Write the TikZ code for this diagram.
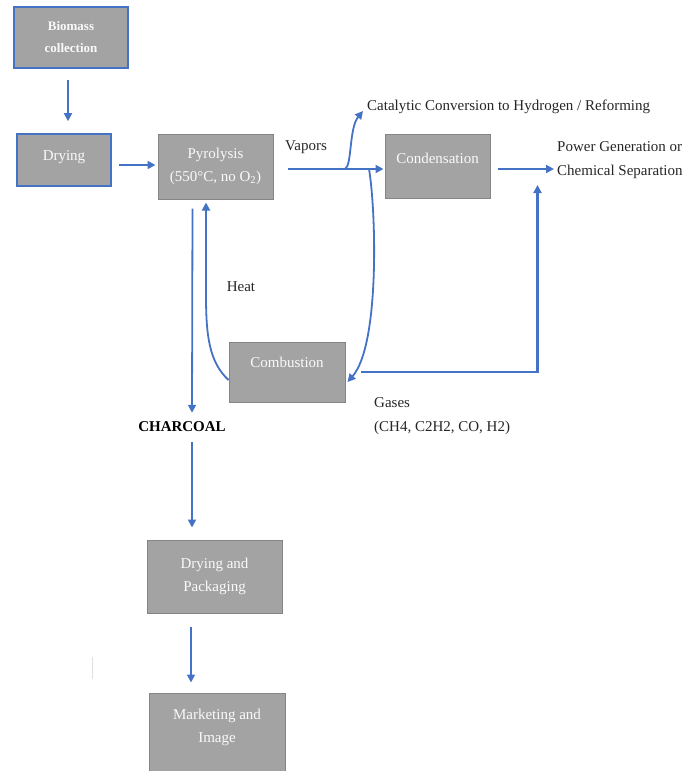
\documentclass[tikz,border=0pt]{standalone}
\usepackage{fontspec}
\setmainfont{Liberation Serif}
\usetikzlibrary{arrows.meta,calc}
\definecolor{boxgray}{HTML}{A3A3A3}
\definecolor{boxedge}{HTML}{858585}
\definecolor{flowblue}{HTML}{4472C4}
\begin{document}
\begin{tikzpicture}[x=1pt,y=-1pt,
  box/.style={draw=boxedge, line width=1pt, fill=boxgray, text=white!96!gray,
    font=\fontsize{15}{23}\selectfont, align=center, inner sep=0pt},
  bluebox/.style={box, draw=flowblue, line width=1.6pt},
  arr/.style={draw=flowblue, line width=1.8pt, -{Triangle[width=8pt,length=8pt]}},
  lbl/.style={font=\fontsize{15}{24}\selectfont, inner sep=0pt, align=left, text=black!85}]
\useasboundingbox (0,0) rectangle (698,771);

% boxes
\node[bluebox, minimum width=114pt, minimum height=61pt,
  font=\bfseries\fontsize{13}{22}\selectfont] (bio) at (71,37.5) {Biomass\\collection};
\node[bluebox, minimum width=94pt, minimum height=52pt, text depth=8pt] (dry) at (64,160) {Drying};
\node[box, minimum width=115pt, minimum height=65pt] (pyr) at (215.5,166.5) {Pyrolysis\\(550°C, no O\textsubscript{2})};
\node[box, minimum width=105pt, minimum height=64pt, text depth=16pt] (cond) at (437.5,166) {Condensation};
\node[box, minimum width=116pt, minimum height=60pt, text depth=20pt] (comb) at (287,372) {Combustion};
\node[box, minimum width=135pt, minimum height=73pt] (dp) at (214.5,576.5) {Drying and\\Packaging};
\node[box, minimum width=136pt, minimum height=80pt, text depth=15pt] (mkt) at (217,733) {Marketing and\\Image};

% labels
\node[lbl, anchor=west] (vap) at (285,147) {Vapors};
\node[lbl, anchor=west] (cat) at (367,107) {Catalytic Conversion to Hydrogen / Reforming};
\node[lbl, anchor=west] (pow) at (557,160) {Power Generation or\\Chemical Separation};
\node[lbl] (heat) at (241,287) {Heat};
\node[lbl, font=\bfseries\fontsize{15}{24}\selectfont, text=black] (char) at (182,427) {CHARCOAL};
\node[lbl, anchor=west] (gas) at (374,416) {Gases\\(CH4, C2H2, CO, H2)};

% junction points on the vapour line
\coordinate (vb) at (345,169);
\coordinate (vd) at (369,169);

% connectors
\draw[arr] ([xshift=-3pt,yshift=-11pt]bio.south) -- ([xshift=4pt,yshift=12pt]dry.north);
\draw[arr] ([xshift=7pt,yshift=-5pt]dry.east) -- ([xshift=-2pt,yshift=1.5pt]pyr.west);
\draw[arr] ([xshift=14pt,yshift=-2.5pt]pyr.east) -- ([xshift=-1pt,yshift=-3pt]cond.west);
\draw[arr] (vb) .. controls (352,166) and (349,128) .. ([xshift=-4pt,yshift=-4pt]cat.west);
\draw[arr] ([xshift=7pt,yshift=-3pt]cond.east) -- ([xshift=-3pt,yshift=-9pt]pow.west);
\draw[arr] (vd) .. controls (376,210) and (380,345) .. ([xshift=2pt,yshift=-10pt]comb.east);
\draw[arr, line width=2.2pt] ([xshift=15pt]comb.east) -| ([xshift=47pt,yshift=-19pt]cond.east);
\draw[arr] ([yshift=-8pt]comb.west) .. controls (209,362) and (206,335) .. (206,295)
  -- ([xshift=-9.5pt,yshift=-3pt]pyr.south);
\draw[arr] ([xshift=-23pt,yshift=-9pt]pyr.south) -- ([xshift=10pt,yshift=9pt]char.north);
\draw[arr] ([xshift=10pt,yshift=-10pt]char.south) -- ([xshift=-22.5pt,yshift=12pt]dp.north);
\draw[arr] ([xshift=-23.5pt,yshift=-13pt]dp.south) -- ([xshift=-26pt,yshift=10pt]mkt.north);

% faint stray mark
\draw[black!12, line width=0.8pt] (92,657) -- (92,679);
\end{tikzpicture}
\end{document}
